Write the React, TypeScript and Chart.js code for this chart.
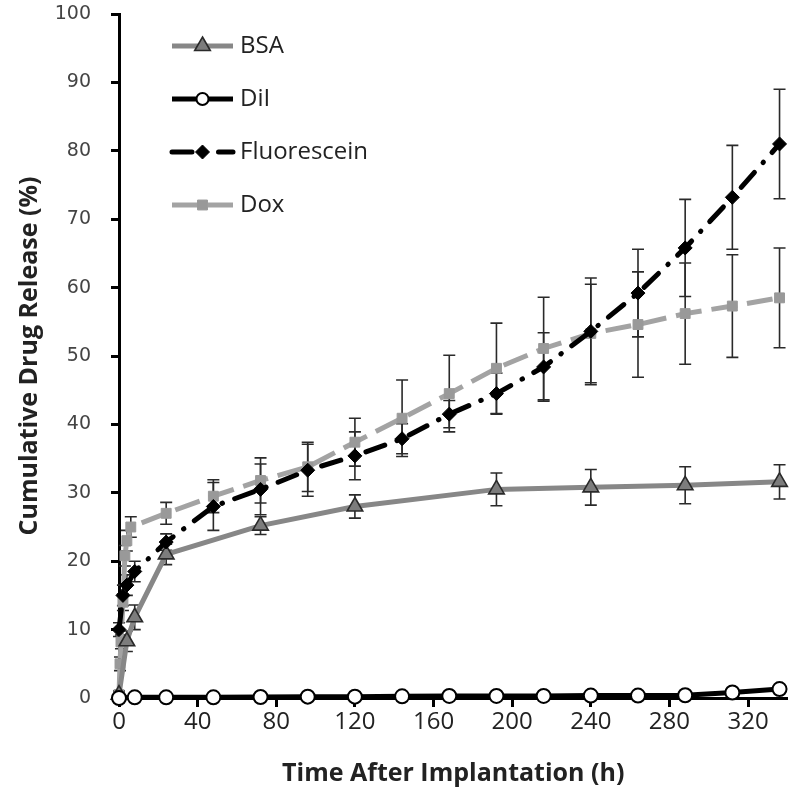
import React, { useEffect, useRef } from 'react';
import { Chart, registerables } from 'chart.js';
import { drawPoint } from 'chart.js/helpers';

Chart.register(...registerables);

// ---- data ----
const xTickValues = [0, 40, 80, 120, 160, 200, 240, 280, 320];

const bsaTimes = [0, 4, 8, 24, 72, 120, 192, 240, 288, 336];
const bsaValues = [0.5, 8.3, 11.8, 21.0, 25.2, 28.0, 30.5, 30.8, 31.1, 31.6];
const bsaErrors = [0.5, 1.5, 1.8, 1.5, 1.3, 1.7, 2.4, 2.6, 2.7, 2.5];

const dilTimes = [0, 8, 24, 48, 72, 96, 120, 144, 168, 192, 216, 240, 264, 288, 312, 336];
const dilValues = [0, 0.1, 0.1, 0.1, 0.15, 0.2, 0.2, 0.25, 0.3, 0.3, 0.3, 0.35, 0.35, 0.4, 0.8, 1.3];
const dilErrors = [0, 0.1, 0.1, 0.1, 0.1, 0.1, 0.1, 0.1, 0.1, 0.1, 0.1, 0.1, 0.1, 0.1, 0.2, 0.3];

const fluTimes = [0, 2, 4, 8, 24, 48, 72, 96, 120, 144, 168, 192, 216, 240, 264, 288, 312, 336];
const fluValues = [10, 15, 16.5, 18.5, 22.8, 28.0, 30.5, 33.3, 35.4, 37.9, 41.5, 44.5, 48.4, 53.6, 59.2, 65.8, 73.2, 81.0];
const fluErrors = [1, 1.5, 1.5, 1.5, 1.2, 3.5, 3.7, 3.8, 3.5, 2.2, 2.0, 3.0, 5.0, 7.8, 6.4, 7.1, 7.6, 8.0];

const doxTimes = [0, 0.5, 1, 2, 3, 4, 6, 24, 48, 72, 96, 120, 144, 168, 192, 216, 240, 264, 288, 312, 336];
const doxValues = [0.5, 5, 8.2, 14, 20.8, 23, 25, 27, 29.5, 31.8, 33.8, 37.4, 40.9, 44.5, 48.2, 51.1, 53.3, 54.6, 56.2, 57.3, 58.5];
const doxErrors = [0.5, 1, 1, 1.2, 1.5, 1.5, 1.5, 1.6, 2.4, 3.3, 3.6, 3.5, 5.6, 5.6, 6.6, 7.5, 7.2, 7.7, 7.4, 7.5, 7.3];

const toPoints = (t: number[], v: number[]) => t.map((x, i) => ({ x, y: v[i] }));

const errorBarPlugin = {
  id: 'errorBars',
  beforeDatasetsDraw(chart: any) {
    const ctx = chart.ctx;
    const xs = chart.scales.x;
    const ys = chart.scales.y;
    ctx.save();
    ctx.strokeStyle = '#2a2a2a';
    ctx.lineWidth = 1.6;
    ctx.setLineDash([]);
    chart.data.datasets.forEach((ds: any) => {
      const errs: number[] = ds.errors || [];
      ds.data.forEach((p: any, i: number) => {
        const e = errs[i];
        if (!e) return;
        const px = xs.getPixelForValue(p.x);
        const top = ys.getPixelForValue(p.y + e);
        const bot = ys.getPixelForValue(p.y - e);
        const cap = 6;
        ctx.beginPath();
        ctx.moveTo(px, top);
        ctx.lineTo(px, bot);
        ctx.moveTo(px - cap, top);
        ctx.lineTo(px + cap, top);
        ctx.moveTo(px - cap, bot);
        ctx.lineTo(px + cap, bot);
        ctx.stroke();
      });
    });
    ctx.restore();
  },
};

const legendPlugin = {
  id: 'insideLegend',
  afterDatasetsDraw(chart: any) {
    const ctx = chart.ctx;
    const x0 = 172;
    const x1 = 233;
    const yStart = 46;
    const gap = 53;
    chart.data.datasets.forEach((ds: any, i: number) => {
      const y = yStart + i * gap;
      ctx.save();
      ctx.strokeStyle = ds.borderColor;
      ctx.lineWidth = ds.borderWidth;
      ctx.setLineDash(ds.borderDash || []);
      ctx.lineCap = ds.borderCapStyle || 'butt';
      ctx.beginPath();
      ctx.moveTo(x0, y);
      ctx.lineTo(x1, y);
      ctx.stroke();
      ctx.setLineDash([]);
      ctx.lineCap = 'butt';
      ctx.fillStyle = ds.pointBackgroundColor;
      ctx.strokeStyle = ds.pointBorderColor;
      ctx.lineWidth = ds.pointBorderWidth;
      const r = ds.pointStyle === 'circle' ? 6 : ds.pointRadius;
      drawPoint(ctx, { pointStyle: ds.pointStyle, radius: r, borderWidth: ds.pointBorderWidth, rotation: 0 } as any, (x0 + x1) / 2, y);
      ctx.fillStyle = '#222';
      ctx.font = '24px "Open Sans", sans-serif';
      ctx.textBaseline = 'middle';
      ctx.textAlign = 'left';
      ctx.fillText(ds.label, 240, y);
      ctx.restore();
    });
  },
};

export default function App() {
  const ref = useRef<HTMLCanvasElement>(null);

  useEffect(() => {
    document.body.style.margin = '0';
    if (!ref.current) return;
    const chart = new Chart(ref.current, {
      type: 'line',
      data: {
        datasets: [
          {
            label: 'BSA',
            data: toPoints(bsaTimes, bsaValues),
            errors: bsaErrors,
            borderColor: '#878787',
            borderWidth: 5,
            pointStyle: 'triangle',
            pointRadius: 9,
            pointBackgroundColor: '#7c7c7c',
            pointBorderColor: '#2a2a2a',
            pointBorderWidth: 1.6,
            tension: 0,
            clip: false,
            order: 2,
          },
          {
            label: 'DiI',
            data: toPoints(dilTimes, dilValues),
            errors: dilErrors,
            borderColor: '#000000',
            borderWidth: 5,
            pointStyle: 'circle',
            pointRadius: 7,
            pointBackgroundColor: '#ffffff',
            pointBorderColor: '#000000',
            pointBorderWidth: 2,
            tension: 0,
            clip: false,
            order: 0,
          },
          {
            label: 'Fluorescein',
            data: toPoints(fluTimes, fluValues),
            errors: fluErrors,
            borderColor: '#000000',
            borderWidth: 5,
            borderDash: [20, 13, 0.5, 13],
            borderCapStyle: 'round',
            pointStyle: 'rectRot',
            pointRadius: 7,
            pointBackgroundColor: '#000000',
            pointBorderColor: '#000000',
            pointBorderWidth: 1,
            tension: 0,
            clip: false,
            order: 1,
          },
          {
            label: 'Dox',
            data: toPoints(doxTimes, doxValues),
            errors: doxErrors,
            borderColor: '#a3a3a3',
            borderWidth: 5,
            borderDash: [26, 10],
            pointStyle: 'rect',
            pointRadius: 7,
            pointBackgroundColor: '#999999',
            pointBorderColor: '#999999',
            pointBorderWidth: 1,
            tension: 0,
            clip: false,
            order: 3,
          },
        ] as any,
      },
      options: {
        animation: false,
        responsive: false,
        layout: { padding: { left: 0, right: 8, top: 14, bottom: 0 } },
        plugins: {
          legend: { display: false },
          tooltip: { enabled: false },
        },
        scales: {
          x: {
            type: 'linear',
            min: 0,
            max: 340,
            afterBuildTicks: (scale: any) => {
              scale.ticks = xTickValues.map((v) => ({ value: v }));
            },
            afterFit: (scale: any) => {
              scale.height = 100;
            },
            ticks: {
              font: { family: '"Open Sans", sans-serif', size: 24 },
              color: '#222',
              padding: 1,
              maxRotation: 0,
              autoSkip: false,
            },
            grid: { drawOnChartArea: false, drawTicks: true, tickLength: 9, tickWidth: 3, tickColor: '#000' },
            border: { color: '#000', width: 3 },
            title: {
              display: true,
              text: 'Time After Implantation (h)',
              font: { family: '"Open Sans", sans-serif', size: 25, weight: 'bold' },
              color: '#222',
              padding: { top: 0, bottom: 9 },
            },
          },
          y: {
            type: 'linear',
            min: 0,
            max: 100,
            afterFit: (scale: any) => {
              scale.width = 119;
              scale.paddingTop = 0;
              scale.paddingBottom = 0;
            },
            ticks: {
              stepSize: 10,
              font: { family: '"DejaVu Sans", sans-serif', size: 19 },
              color: '#444',
              padding: 20,
            },
            grid: { drawOnChartArea: false, drawTicks: true, tickLength: 8, tickWidth: 3, tickColor: '#000' },
            border: { color: '#000', width: 3 },
            title: {
              display: true,
              text: 'Cumulative Drug Release (%)',
              font: { family: '"Open Sans", sans-serif', size: 25, weight: 'bold' },
              color: '#222',
              padding: { top: 15, bottom: 0 },
            },
          },
        },
      } as any,
      plugins: [errorBarPlugin, legendPlugin],
    });
    return () => chart.destroy();
  }, []);

  return (
    <div style={{ width: 798, height: 798 }}>
      <canvas ref={ref} width={798} height={798} style={{ display: 'block' }} />
    </div>
  );
}
